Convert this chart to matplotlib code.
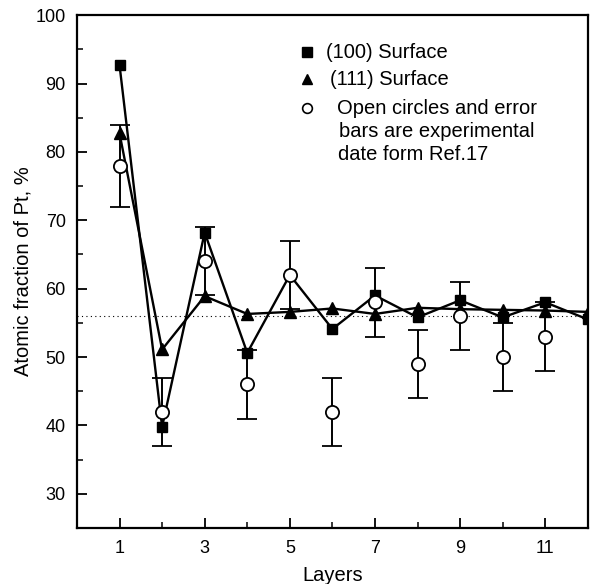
import matplotlib.pyplot as plt
from matplotlib.ticker import MultipleLocator

plt.rcParams['font.family'] = ['Liberation Sans', 'DejaVu Sans']

layers = [1, 2, 3, 4, 5, 6, 7, 8, 9, 10, 11, 12]
surf100 = [92.7, 39.8, 68.2, 50.6, 62.0, 54.1, 59.0, 55.8, 58.3, 55.8, 58.0, 55.5]
surf111 = [82.7, 51.1, 58.9, 56.3, 56.6, 57.1, 56.3, 57.2, 57.0, 56.9, 56.8, 56.6]

exp_layers = [1, 2, 3, 4, 5, 6, 7, 8, 9, 10, 11]
exp_vals = [78, 42, 64, 46, 62, 42, 58, 49, 56, 50, 53]
exp_err = [6, 5, 5, 5, 5, 5, 5, 5, 5, 5, 5]

bulk = 56

fig = plt.figure(figsize=(5.92, 5.84), dpi=100)
ax = fig.add_axes([0.130, 0.096, 0.863, 0.878])

ax.axhline(bulk, color='black', lw=0.8, ls=(0, (1, 3)), zorder=1)

ax.plot(layers, surf100, color='black', lw=1.7, marker='s', ms=7.5, zorder=3)
ax.plot(layers, surf111, color='black', lw=1.7, marker='^', ms=8.5, zorder=3)
ax.errorbar(exp_layers, exp_vals, yerr=exp_err, fmt='o', color='black',
            mfc='white', mec='black', ms=9.5, mew=1.3, elinewidth=1.4,
            capsize=7, capthick=1.4, zorder=4)

ax.set_xlim(0, 12)
ax.set_ylim(25, 100)
ax.set_xticks([1, 3, 5, 7, 9, 11])
ax.xaxis.set_minor_locator(MultipleLocator(1))
ax.yaxis.set_minor_locator(MultipleLocator(5))
ax.set_yticks(range(30, 101, 10))
ax.tick_params(direction='in', which='major', length=7, width=1.3, labelsize=13)
ax.tick_params(direction='in', which='minor', length=4, width=1.1)
ax.tick_params(axis='x', pad=9)
ax.tick_params(axis='y', pad=8)
for s in ax.spines.values():
    s.set_linewidth(1.6)

ax.set_xlabel('Layers', fontsize=14.5, labelpad=6)
ax.set_ylabel('Atomic fraction of Pt, %', fontsize=14.5, labelpad=2)

# legend drawn by hand so the circle sits next to the first text line
def fx(px):
    return (px - 77) / (588 - 77)

def fy(py):
    return (528 - py) / (528 - 15)

ax.plot(fx(307), fy(52), 's', color='black', ms=7, transform=ax.transAxes, clip_on=False)
ax.plot(fx(307), fy(79), '^', color='black', ms=7.5, transform=ax.transAxes, clip_on=False)
ax.plot(fx(307), fy(108), 'o', mfc='white', mec='black', ms=7, mew=1.2,
        transform=ax.transAxes, clip_on=False)
fs = 14.5
ax.text(fx(326), fy(52), '(100) Surface', transform=ax.transAxes, va='center', fontsize=fs)
ax.text(fx(330), fy(79), '(111) Surface', transform=ax.transAxes, va='center', fontsize=fs)
ax.text(fx(337), fy(108), 'Open circles and error', transform=ax.transAxes, va='center', fontsize=fs)
ax.text(fx(339), fy(131), 'bars are experimental', transform=ax.transAxes, va='center', fontsize=fs)
ax.text(fx(338), fy(154), 'date form Ref.17', transform=ax.transAxes, va='center', fontsize=fs)

fig.savefig('out.png', dpi=100)
